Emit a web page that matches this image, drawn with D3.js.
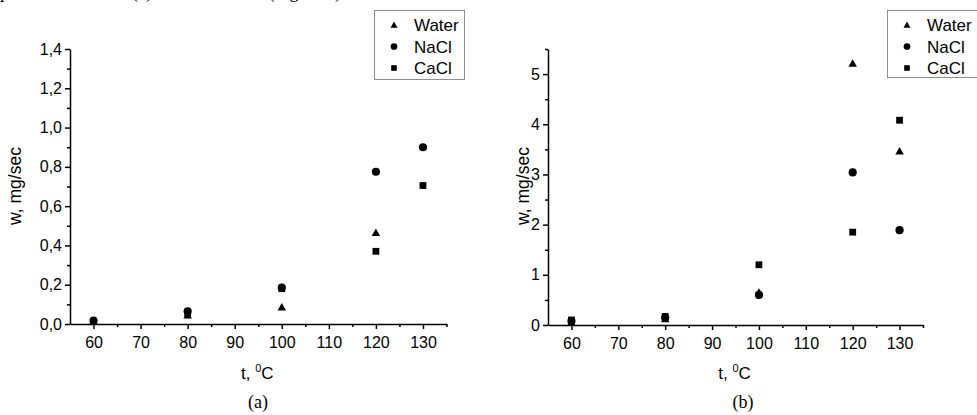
<!DOCTYPE html>
<html>
<head>
<meta charset="utf-8">
<script src="https://cdn.jsdelivr.net/npm/d3@7"></script>
<style>
  body { margin: 0; background: #fff; }
  svg { display: block; }
  .tick text { font-family: "Liberation Sans", Arial, sans-serif; font-size: 16px; fill: #000; }
</style>
</head>
<body>
<svg id="chart" width="977" height="415"></svg>
<script>
// data
const temps   = [60, 80, 100, 120, 130];
const series  = ["Water", "NaCl", "CaCl"];
const shapes  = ["triangle", "circle", "square"];

// panel (a)
const waterA = [0.015, 0.045, 0.085, 0.465, null];
const naclA  = [0.018, 0.065, 0.185, 0.775, 0.90];
const caclA  = [0.012, 0.055, 0.180, 0.370, 0.705];
const yTicksA = [0, 0.2, 0.4, 0.6, 0.8, 1.0, 1.2, 1.4];

// panel (b)
const waterB = [0.05, 0.12, 0.65, 5.21, 3.46];
const naclB  = [0.08, 0.15, 0.60, 3.04, 1.89];
const caclB  = [0.10, 0.17, 1.20, 1.85, 4.08];
const yTicksB = [0, 1, 2, 3, 4, 5];

const xTicks = [60, 70, 80, 90, 100, 110, 120, 130];

const svg = d3.select("#chart");
const sans = '"Liberation Sans", Arial, sans-serif';
const serif = '"Liberation Serif", "Times New Roman", serif';

// caption line of the page above, cropped so only descenders show
svg.append("text")
  .attr("x", 0).attr("y", -2)
  .attr("font-family", serif).attr("font-size", 18)
  .text("plotted on the left (a) and in the total (Figure 5)");

function symbol(g, shape, x, y, s) {
  if (shape === "triangle") {
    g.append("path")
      .attr("d", `M${x},${y - s * 0.5}L${x + s * 0.5},${y + s * 0.38}L${x - s * 0.5},${y + s * 0.38}Z`)
      .attr("fill", "#000");
  } else if (shape === "circle") {
    g.append("circle").attr("cx", x).attr("cy", y).attr("r", s * 0.48).attr("fill", "#000");
  } else {
    g.append("rect").attr("x", x - s * 0.4).attr("y", y - s * 0.4)
      .attr("width", s * 0.8).attr("height", s * 0.8).attr("fill", "#000");
  }
}

function drawPanel(cfg) {
  const x = d3.scaleLinear().domain([55, 135]).range(cfg.xr);
  const y = d3.scaleLinear().domain([0, cfg.ymax]).range(cfg.yr);
  const g = svg.append("g");

  // minor ticks
  const xMinor = d3.range(65, 136, 10);
  g.append("g").attr("transform", `translate(0,${cfg.yr[0]})`)
    .call(d3.axisBottom(x).tickValues(xMinor).tickSize(3).tickFormat(""))
    .call(a => a.select(".domain").remove())
    .call(a => a.selectAll("line").attr("stroke-width", 1.5));
  g.append("g").attr("transform", `translate(${cfg.xr[0]},0)`)
    .call(d3.axisLeft(y).tickValues(cfg.yMinor).tickSize(3).tickFormat(""))
    .call(a => a.select(".domain").remove())
    .call(a => a.selectAll("line").attr("stroke-width", 1.5));

  // major axes
  g.append("g").attr("transform", `translate(0,${cfg.yr[0]})`)
    .call(d3.axisBottom(x).tickValues(xTicks).tickSize(5).tickPadding(8).tickSizeOuter(0))
    .call(a => a.select(".domain").attr("stroke-width", 1.5))
    .call(a => a.selectAll("line").attr("stroke-width", 1.5));
  g.append("g").attr("transform", `translate(${cfg.xr[0]},0)`)
    .call(d3.axisLeft(y).tickValues(cfg.yTicks).tickSize(5).tickPadding(3).tickSizeOuter(0)
      .tickFormat(cfg.fmt))
    .call(a => a.select(".domain").attr("stroke-width", 1.5))
    .call(a => a.selectAll("line").attr("stroke-width", 1.5));

  // points
  cfg.data.forEach((vals, i) => {
    vals.forEach((v, j) => {
      if (v === null) return;
      symbol(g, shapes[i], x(temps[j]), y(v), 8.5);
    });
  });

  // axis titles
  const xt = g.append("text")
    .attr("x", (x(55) + x(135)) / 2 - 1).attr("y", 379)
    .attr("text-anchor", "middle")
    .attr("font-family", sans).attr("font-size", 17);
  xt.append("tspan").text("t, ");
  xt.append("tspan").attr("font-size", 11).attr("dy", -7).text("0");
  xt.append("tspan").attr("dy", 7).text("C");

  g.append("text")
    .attr("transform", `translate(${cfg.ylabX},186) rotate(-90)`)
    .attr("text-anchor", "middle")
    .attr("font-family", sans).attr("font-size", 17.5)
    .text("w, mg/sec");

  g.append("text")
    .attr("x", cfg.capX).attr("y", 408)
    .attr("text-anchor", "middle")
    .attr("font-family", serif).attr("font-size", 18)
    .text(cfg.caption);

  // legend
  const lg = g.append("g");
  lg.append("rect")
    .attr("x", cfg.leg[0] + 0.5).attr("y", cfg.leg[1] + 0.5)
    .attr("width", cfg.leg[2]).attr("height", cfg.leg[3])
    .attr("fill", "#fff").attr("stroke", "#8c8c8c").attr("stroke-width", 1);
  series.forEach((s, i) => {
    const cy = cfg.leg[1] + 15 + i * 21.5;
    symbol(lg, shapes[i], cfg.leg[0] + 20, cy, 7);
    lg.append("text")
      .attr("x", cfg.leg[0] + 40).attr("y", cy + 6)
      .attr("font-family", sans).attr("font-size", 17)
      .text(s);
  });
}

drawPanel({
  xr: [70, 446.5], yr: [324, 49], ymax: 1.4,
  yTicks: yTicksA, yMinor: d3.range(0.1, 1.4, 0.2),
  fmt: d => d3.format(".1f")(d).replace(".", ","),
  data: [waterA, naclA, caclA],
  ylabX: 21, capX: 258, caption: "(a)",
  leg: [374, 10, 90, 69]
});

drawPanel({
  xr: [548, 923], yr: [325, 49], ymax: 5.5,
  yTicks: yTicksB, yMinor: d3.range(0.5, 5.6, 1),
  fmt: d3.format("d"),
  data: [waterB, naclB, caclB],
  ylabX: 529, capX: 743, caption: "(b)",
  leg: [887, 10, 95, 67]
});
</script>
</body>
</html>
